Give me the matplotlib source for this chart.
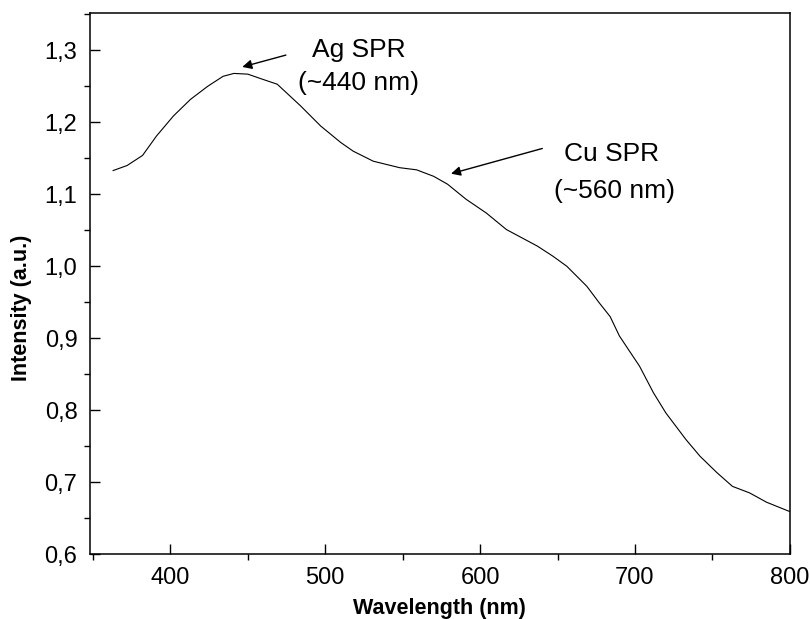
import matplotlib
matplotlib.use("Agg")
import matplotlib.pyplot as plt
from matplotlib.ticker import MultipleLocator, FuncFormatter

plt.rcParams['font.family'] = ['Liberation Sans', 'DejaVu Sans']

# absorption spectrum
wavelength = [363, 372, 382, 391, 402, 413, 424, 434, 441, 450, 458, 469, 477,
              484, 497, 510, 518, 531, 548, 559, 570, 579, 591, 604, 617,
              637, 647, 656, 669, 677, 684, 690, 703, 712, 720, 733, 742,
              753, 763, 774, 785, 800]
intensity = [1.133, 1.140, 1.154, 1.181, 1.209, 1.232, 1.250, 1.264, 1.268,
             1.267, 1.261, 1.253, 1.237, 1.223, 1.195, 1.172, 1.160, 1.146,
             1.137, 1.134, 1.125, 1.114, 1.093, 1.074, 1.051, 1.028, 1.014,
             1.000, 0.972, 0.949, 0.930, 0.903, 0.861, 0.824, 0.796, 0.759,
             0.736, 0.713, 0.694, 0.685, 0.672, 0.659]

fig = plt.figure(figsize=(8.1, 6.19), dpi=100)
ax = fig.add_axes([0.111, 0.105, 0.864, 0.874])

ax.plot(wavelength, intensity, color='black', lw=0.8)

ax.set_xlim(348, 800)
ax.set_ylim(0.6, 1.352)
ax.xaxis.set_major_locator(MultipleLocator(100))
ax.xaxis.set_minor_locator(MultipleLocator(50))
ax.yaxis.set_major_locator(MultipleLocator(0.1))
ax.yaxis.set_minor_locator(MultipleLocator(0.05))
ax.yaxis.set_major_formatter(FuncFormatter(lambda v, p: f"{v:.1f}".replace('.', ',')))

ax.tick_params(which='major', direction='in', length=7, width=1, labelsize=17)
ax.tick_params(axis='y', which='major', pad=9)
ax.tick_params(axis='x', which='major', pad=9)
ax.tick_params(which='minor', direction='out', length=4, width=1)
for s in ax.spines.values():
    s.set_linewidth(1.1)

ax.set_xlabel('Wavelength (nm)', fontsize=15.5, fontweight='bold', labelpad=7)
ax.set_ylabel('Intensity (a.u.)', fontsize=15.5, fontweight='bold')
ax.yaxis.set_label_coords(-0.083, 0.455)

ax.annotate('', xy=(444.7, 1.276), xytext=(476.3, 1.2945),
            arrowprops=dict(arrowstyle='-|>', color='black', lw=1, mutation_scale=14))
ax.annotate('', xy=(579.5, 1.1276), xytext=(641.9, 1.1647),
            arrowprops=dict(arrowstyle='-|>', color='black', lw=1, mutation_scale=14))

ax.text(521.5, 1.301, 'Ag SPR', fontsize=19, ha='center', va='center')
ax.text(521.5, 1.255, '(~440 nm)', fontsize=19, ha='center', va='center')
ax.text(685, 1.1555, 'Cu SPR', fontsize=19, ha='center', va='center')
ax.text(687, 1.104, '(~560 nm)', fontsize=19, ha='center', va='center')

fig.savefig('out.png', dpi=100)
